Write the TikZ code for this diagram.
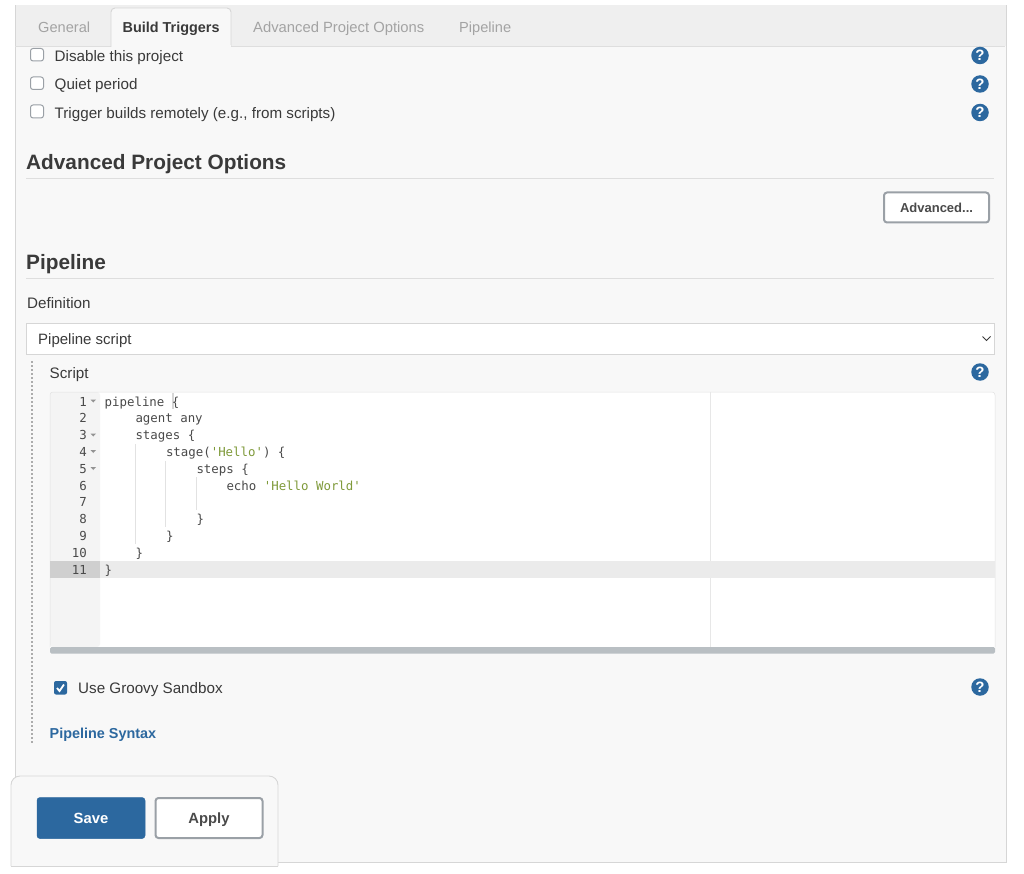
\documentclass[tikz,border=0pt]{standalone}
\usepackage{fontspec}
\setmainfont{Liberation Sans}
\setmonofont{DejaVu Sans Mono}
\definecolor{panelbg}{HTML}{F8F8F8}
\definecolor{tabbg}{HTML}{EFEFEF}
\definecolor{edge}{HTML}{D6D6D6}
\definecolor{ink}{HTML}{3A3A3A}
\definecolor{blue}{HTML}{2C689F}
\definecolor{graybtn}{HTML}{9AA0A6}
\definecolor{tabtxt}{HTML}{A3A3A3}
\definecolor{code}{HTML}{4A4A4A}
\definecolor{strc}{HTML}{7F9A3A}
\definecolor{gutter}{HTML}{F4F4F4}
\definecolor{active}{HTML}{EBEBEB}
\definecolor{scrollc}{HTML}{B9BFC3}
\tikzset{
 x=1pt,y=-1pt,
 lbl/.style={anchor=base west,inner sep=0pt,text=ink,font=\fontsize{15.2}{17}\selectfont},
 tabl/.style={anchor=base west,inner sep=0pt,text=tabtxt,font=\fontsize{14.6}{16}\selectfont},
 head/.style={anchor=base west,inner sep=0pt,text=ink,font=\fontsize{20.8}{23}\selectfont\bfseries},
 ck/.style={draw=graybtn,line width=1pt,fill=white,rounded corners=2.5pt},
 rule/.style={draw=edge!80,line width=.8pt},
 help/.style={circle,fill=blue,minimum size=17.5pt,inner sep=0pt,text=white,font=\fontsize{15}{15}\selectfont\bfseries},
 cd/.style={anchor=base west,inner sep=0pt,text=code,font=\ttfamily\fontsize{12.4}{14}\selectfont},
 num/.style={anchor=base east,inner sep=0pt,text=code,font=\ttfamily\fontsize{12.4}{14}\selectfont},
 btn/.style={draw=graybtn,line width=2pt,fill=white,rounded corners=3pt,inner sep=0pt},
 btnt/.style={anchor=base,inner sep=0pt,text=code,font=\fontsize{14.8}{16}\selectfont\bfseries},
 guide/.style={draw=edge!70,line width=.7pt}
}
\newcommand{\foldmark}[1]{\fill[gray!85] (90.5,#1-1.5) -- (96,#1-1.5) -- (93.25,#1+1.5) -- cycle;}
\begin{document}
\begin{tikzpicture}
\useasboundingbox (0,0) rectangle (1024,874);
\fill[white] (0,0) rectangle (1024,874);
% panel
\draw[fill=panelbg,draw=edge,line width=.9pt] (15,5) rectangle (1006,862);
\fill[tabbg] (15.5,5) rectangle (1005.5,46);
\draw[rule] (15,46.5) -- (1005,46.5);
% tabs
\node[tabl] (tabgen) at (38,32.5) {General};
\draw[draw=edge,line width=.9pt,fill=panelbg,rounded corners=4pt] (111,47) -- (111,8) -- (231,8) -- (231,47);
\fill[panelbg] (111.5,45.5) rectangle (230.5,47.2);
\node[tabl,text=ink,font=\fontsize{14.4}{16}\selectfont\bfseries] (tabbuild) at (122.5,32.5) {Build Triggers};
\node[tabl,font=\fontsize{14.8}{16}\selectfont] (tabadv) at (253,32.5) {Advanced Project Options};
\node[tabl] (tabpipe) at (459,32.5) {Pipeline};
% checkboxes
\draw[ck] (30.5,48.5) rectangle (43.5,61);
\node[lbl] (c1) at (54.5,62) {Disable this project};
\draw[ck] (30.5,77) rectangle (43.5,89.5);
\node[lbl] (c2) at (54.5,90) {Quiet period};
\draw[ck] (30.5,105) rectangle (43.5,118);
\node[lbl] (c3) at (54.5,118.5) {Trigger builds remotely (e.g., from scripts)};
\node[help] (h1) at (980,55.5) {?};
\node[help] (h2) at (980,84) {?};
\node[help] (h3) at (980,112.5) {?};
% advanced section
\node[head] (advh) at (26,169.5) {Advanced Project Options};
\draw[rule] (26,178) -- (994,178);
\node[btn,minimum width=105pt,minimum height=30pt] (advb) at (936.5,207.5) {};
\node[btnt,font=\fontsize{13}{15}\selectfont\bfseries] (advt) at (936.5,212.5) {Advanced...};
% pipeline
\node[head] (pipeh) at (26,270) {Pipeline};
\draw[rule] (26,278.5) -- (994,278.5);
\node[lbl] (defl) at (27,308.5) {Definition};
\draw[draw=edge,line width=1pt,fill=white] (26.5,323) rectangle (994.5,354.5);
\node[lbl,font=\fontsize{15}{17}\selectfont] (sel) at (38,344.5) {Pipeline script};
\draw[draw=ink,line width=1pt] (982.5,336.5) -- (986.5,340.5) -- (990.5,336.5);
% dotted bar
\draw[draw=gray!65,line width=2pt,dash pattern=on 2.4pt off 1.6pt] (31.5,361) -- (31.5,744);
\node[lbl] (scr) at (49.5,378) {Script};
\node[help] (h4) at (980,372) {?};
% editor
\fill[white,rounded corners=3pt] (50,392) rectangle (995,653);
\fill[gutter,rounded corners=3pt] (50,392) -- (100,392) -- (100,647) -- (50,647) -- cycle;
\draw[edge!70,line width=.5pt,rounded corners=3pt] (50,647) -- (50,392) -- (995,392) -- (995,647);
\draw[edge!60,line width=.6pt] (710,392) -- (710,647);
\fill[active] (100,561) rectangle (994.5,577.5);
\fill[gray!38] (50,561) rectangle (100,577.5);
\fill[scrollc,rounded corners=1.5pt] (50,647) rectangle (995,653.5);
% guides
\draw[guide] (135.5,444) -- (135.5,544);
\draw[guide] (165.5,461) -- (165.5,527);
\draw[guide] (196,477) -- (196,510);
\draw[edge,line width=.6pt] (172,393.5) rectangle (173,408);
% numbers
\node[num] (n1) at (87,406) {1};
\node[num] (n2) at (87,422.8) {2};
\node[num] (n3) at (87,439.6) {3};
\node[num] (n4) at (87,456.4) {4};
\node[num] (n5) at (87,473.2) {5};
\node[num] (n6) at (87,490) {6};
\node[num] (n7) at (87,506.8) {7};
\node[num] (n8) at (87,523.6) {8};
\node[num] (n9) at (87,540.4) {9};
\node[num] (n10) at (87,557.2) {10};
\node[num] (n11) at (87,574) {11};
\foldmark{401}\foldmark{435}\foldmark{451.5}\foldmark{468.5}
% code
\node[cd] (l1) at (104.5,406) {pipeline \{};
\node[cd] (l2) at (135.3,422.8) {agent any};
\node[cd] (l3) at (135.3,439.6) {stages \{};
\node[cd] (l4) at (165.8,456.4) {stage(\textcolor{strc}{'Hello'}) \{};
\node[cd] (l5) at (196.3,473.2) {steps \{};
\node[cd] (l6) at (226.3,490) {echo \textcolor{strc}{'Hello World'}};
\node[cd] (l8) at (196.3,523.6) {\}};
\node[cd] (l9) at (165.8,540.4) {\}};
\node[cd] (l10) at (135.3,557.2) {\}};
\node[cd] (l11) at (104.5,574) {\}};
% sandbox
\fill[blue,rounded corners=2pt] (54,681) rectangle (67,694.5);
\draw[white,line width=1.8pt] (57,688) -- (59.5,691) -- (64,684.5);
\node[lbl] (sb) at (78,693.5) {Use Groovy Sandbox};
\node[help] (h5) at (980,687) {?};
\node[lbl,text=blue,font=\fontsize{14.4}{16}\selectfont\bfseries] (ps) at (49.5,738) {Pipeline Syntax};
% save bar
\draw[draw=edge,line width=.9pt,fill=panelbg,rounded corners=9pt] (11,866) -- (11,776) -- (278,776) -- (278,866);
\draw[draw=edge,line width=.9pt] (11,866) -- (278,866);
\node[btn,draw=blue,fill=blue,minimum width=108pt,minimum height=41pt,line width=.5pt] (save) at (91,818) {};
\node[btnt,text=white] (savet) at (91,823.5) {Save};
\node[btn,minimum width=107pt,minimum height=40pt] (apply) at (209,818) {};
\node[btnt] (applyt) at (209,823.5) {Apply};
\end{tikzpicture}
\end{document}
